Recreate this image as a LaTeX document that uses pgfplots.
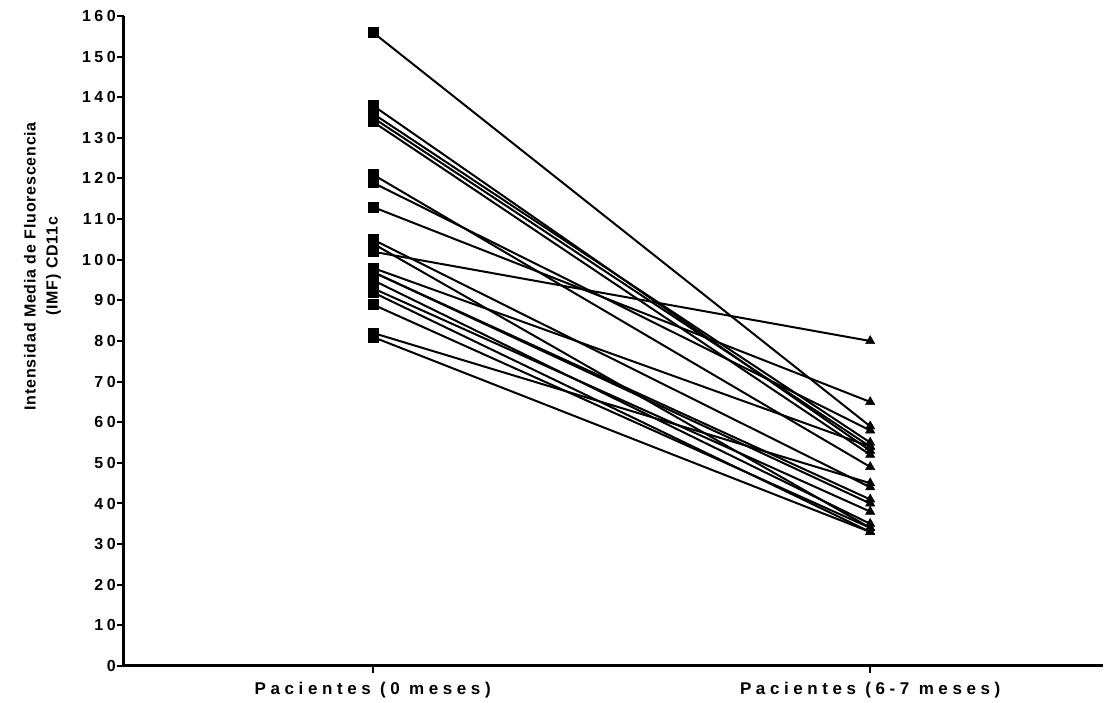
\documentclass[border=0pt]{standalone}
\usepackage{fontspec}
\setmainfont{Liberation Sans}
\newfontfamily\spaced{Liberation Sans}[LetterSpace=27]
\newfontfamily\numfont{Liberation Sans}[LetterSpace=22]
\newfontfamily\lblfont{Liberation Sans}[LetterSpace=5]
\usepackage{pgfplots}
\usepackage{pgfplotstable}
\pgfplotsset{compat=1.18}

% paired values: before (0 months) and after (6-7 months)
\pgfplotstableread{
pre post
156 59
138 53
136 55
135 54
134 52
121 49
119 58
113 65
105 44
104 34
102 80
98 54
97 41
97 40
95 35
93 38
92 33
89 34
82 45
81 33
}\pairs

\begin{document}
\begin{tikzpicture}
\begin{axis}[
  name=ax,
  scale only axis,
  width=979pt, height=650pt,
  xmin=-0.5, xmax=1.468,
  ymin=0, ymax=160,
  axis lines=left,
  axis line style={-, line width=3pt},
  x axis line style={-}, y axis line style={-},
  tick align=outside,
  major tick length=7pt,
  tick style={line width=2pt, black},
  ytick={0,10,...,160},
  xtick={0,1},
  xticklabels={Pacientes (0 meses), Pacientes (6-7 meses)},
  /pgf/number format/assume math mode=true,
  yticklabel style={font=\numfont\bfseries\fontsize{16}{18}\selectfont, inner sep=1pt},
  xticklabel style={font=\spaced\bfseries\fontsize{17}{19}\selectfont, inner sep=9pt},
  ylabel={Intensidad Media de Fluorescencia\\(IMF) CD11c},
  ylabel style={align=center, font=\lblfont\bfseries\fontsize{16}{22}\selectfont,
                at={(ticklabel cs:0.615)}, inner sep=20pt},
  clip=false,
]
  \pgfplotstablegetrowsof{\pairs}
  \pgfmathtruncatemacro{\lastrow}{\pgfplotsretval-1}
  \foreach \r in {0,...,\lastrow}{
    \pgfplotstablegetelem{\r}{pre}\of{\pairs}\let\a\pgfplotsretval
    \pgfplotstablegetelem{\r}{post}\of{\pairs}\let\b\pgfplotsretval
    \edef\temp{\noexpand\addplot[black, line width=2pt, mark=none] coordinates {(0,\a) (1,\b)};}
    \temp
  }
  \addplot[only marks, mark=square*, mark size=5pt, black] table[x expr=0, y=pre] {\pairs};
  \addplot[only marks, mark=triangle*, mark size=5.4pt, black] table[x expr=1, y=post] {\pairs};
\end{axis}
\pgfresetboundingbox
\path ([xshift=-124pt,yshift=-37pt]ax.south west) rectangle ++(1114pt,703pt);
\end{tikzpicture}
\end{document}
